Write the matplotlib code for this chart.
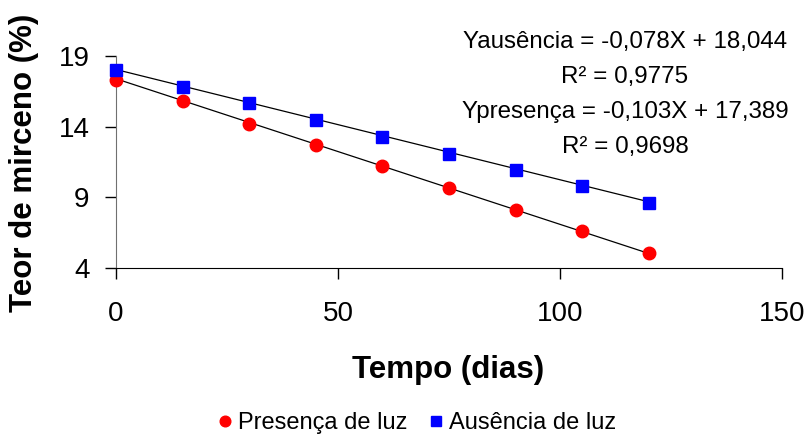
import numpy as np
import matplotlib.pyplot as plt

plt.rcParams["font.family"] = ["Liberation Sans", "DejaVu Sans"]

# dados
tempo = [0, 15, 30, 45, 60, 75, 90, 105, 120]
presenca = [17.3, 15.85, 14.2, 12.7, 11.2, 9.65, 8.1, 6.6, 5.05]
ausencia = [18.0, 16.8, 15.65, 14.45, 13.3, 12.05, 10.95, 9.8, 8.6]
coef_aus = (-0.078, 18.044)
coef_pres = (-0.103, 17.389)
eq_lines = ["Yausência = -0,078X + 18,044", "R² = 0,9775",
            "Ypresença = -0,103X + 17,389", "R² = 0,9698"]

fig = plt.figure(figsize=(8.12, 4.36), dpi=100)
ax = fig.add_axes([116 / 812, 1 - 268 / 436, 666 / 812, 212 / 436])

xt = np.array([0, 120])
ax.plot(xt, coef_pres[0] * xt + coef_pres[1], color="black", lw=0.9, zorder=2)
ax.plot(xt, coef_aus[0] * xt + coef_aus[1], color="black", lw=0.9, zorder=2)
ax.plot(tempo, presenca, "o", color="#ff0000", ms=9, mec="#ff0000",
        label="Presença de luz", zorder=3, clip_on=False)
ax.plot(tempo, ausencia, "s", color="#0000ff", ms=8.5, mec="#0000ff",
        label="Ausência de luz", zorder=3, clip_on=False)

ax.set_xlim(0, 150)
ax.set_ylim(4, 19)
ax.set_xticks([0, 50, 100, 150])
ax.set_yticks([4, 9, 14, 19])
ax.tick_params(axis="both", labelsize=20, length=8, width=1)
ax.tick_params(axis="x", pad=16)
ax.tick_params(axis="y", pad=11)
ax.spines["top"].set_visible(False)
ax.spines["right"].set_visible(False)
ax.spines["left"].set_color("#707070")

ax.set_xlabel("Tempo (dias)", fontsize=22.5, fontweight="bold")
ax.set_ylabel("Teor de mirceno (%)", fontsize=22.5, fontweight="bold")
ax.xaxis.set_label_coords(0.4985, (268 - 355) / 212)
ax.yaxis.set_label_coords((39 - 116) / 666, 0.498)

for i, linha in enumerate(eq_lines):
    fig.text(625 / 812, 1 - (42 + 35 * i) / 436, linha, ha="center",
             va="center", fontsize=17.4)

fig.legend(loc="center", bbox_to_anchor=(415 / 812, 1 - 423 / 436), ncol=2,
           frameon=False, fontsize=17, handletextpad=0.05, columnspacing=0.7,
           handlelength=1.0, markerscale=0.85)

fig.savefig("out.png", dpi=100)
plt.close(fig)
